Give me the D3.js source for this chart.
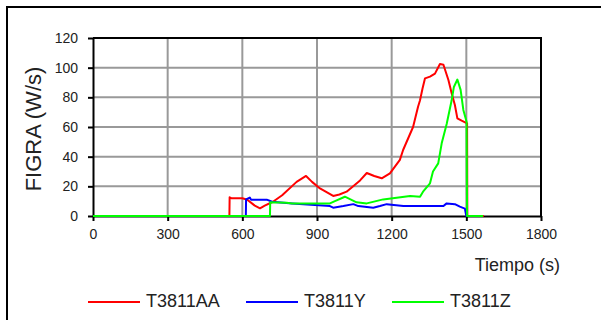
<!DOCTYPE html>
<html>
<head>
<meta charset="utf-8">
<script src="https://cdn.jsdelivr.net/npm/d3@7"></script>
<style>
	body { margin: 0; background: #fff; }
	text { font-family: "Liberation Sans", Arial, sans-serif; fill: #222; }
</style>
</head>
<body>
<svg id="chart" width="601" height="320"></svg>
<script>
// tiempos (s) y valores FIGRA (W/s)
var series = ["T3811AA", "T3811Y", "T3811Z"];
var colors = ["#ff0000", "#0000ff", "#00ff00"];

var t_AA = [0,548,549,555,600,620,650,671,690,723,760,818,856,880,912,965,990,1019,1073,1100,1130,1160,1193,1233,1246,1286,1306,1314,1324,1334,1354,1374,1394,1408,1428,1441,1454,1464,1481,1503,1504,1570];
var v_AA = [0,0,12.6,12,12,11,7,5.2,7,9.6,14,23,27,23,18.6,13.5,14.5,16.4,24,29,27,25.4,28.8,37.8,44.5,60,73.7,78,86,92.8,94,96,102.5,102,91.7,82.7,74.8,65.8,64.3,62.5,0,0];

var t_Y = [0,614,615,630,635,698,720,800,952,965,1006,1046,1066,1126,1153,1180,1247,1408,1421,1454,1474,1494,1500,1567];
var v_Y = [0,0,11.2,12.4,11,11,9.6,8.5,6.7,5.6,6.7,8,6.7,5.6,6.7,8,6.7,6.7,8.5,8,6.3,5,0,0];

var t_Z = [0,711,712,778,800,952,972,1012,1059,1100,1166,1274,1314,1326,1354,1366,1387,1401,1421,1441,1450,1464,1477,1488,1501,1503,1567];
var v_Z = [0,0,9.2,9,8.5,8.5,10,13,9.2,8.5,11.2,13.5,13,16.4,22,30,35.5,49,62,78,87,92,85,71.5,63.6,0,0];

var xTicks = [0, 300, 600, 900, 1200, 1500, 1800];
var yTicks = [0, 20, 40, 60, 80, 100, 120];

var data = [
	d3.zip(t_AA, v_AA),
	d3.zip(t_Y, v_Y),
	d3.zip(t_Z, v_Z)
];

var svg = d3.select("#chart");

// marco exterior
svg.append("rect")
	.attr("x", 7).attr("y", 7)
	.attr("width", 700).attr("height", 400)
	.attr("fill", "none")
	.attr("stroke", "#000")
	.attr("stroke-width", 2);

var pLeft = 93, pTop = 38, pRight = 541, pBottom = 216;

var X = d3.scaleLinear().domain([0, 1800]).range([pLeft, pRight]);
var Y = d3.scaleLinear().domain([0, 120]).range([pBottom, pTop]);

// rejilla
svg.append("g")
	.selectAll("line")
	.data(xTicks.slice(1, -1))
	.enter().append("line")
	.attr("x1", function(d) { return X(d); })
	.attr("x2", function(d) { return X(d); })
	.attr("y1", pTop).attr("y2", pBottom)
	.attr("stroke", "#999").attr("stroke-width", 2);

svg.append("g")
	.selectAll("line")
	.data(yTicks.slice(1, -1))
	.enter().append("line")
	.attr("y1", function(d) { return Y(d); })
	.attr("y2", function(d) { return Y(d); })
	.attr("x1", pLeft).attr("x2", pRight)
	.attr("stroke", "#999").attr("stroke-width", 2);

// ejes
svg.append("g")
	.attr("transform", "translate(0," + pBottom + ")")
	.call(d3.axisBottom(X).tickValues(xTicks).tickFormat(d3.format("d"))
		.tickSize(5).tickSizeOuter(0).tickPadding(8));
svg.append("g")
	.attr("transform", "translate(" + pLeft + ",0)")
	.call(d3.axisLeft(Y).tickValues(yTicks).tickFormat(d3.format("d"))
		.tickSize(5).tickSizeOuter(0).tickPadding(10));

svg.selectAll(".domain").attr("stroke", "#000").attr("stroke-width", 2);
svg.selectAll(".tick line").attr("stroke", "#000").attr("stroke-width", 2);
svg.selectAll(".tick text")
	.style("font-family", "'Liberation Sans', Arial, sans-serif")
	.style("font-size", "14px")
	.attr("fill", "#222");

// borde superior y derecho del area
svg.append("path")
	.attr("d", "M" + pLeft + "," + pTop + "H" + pRight + "V" + pBottom)
	.attr("fill", "none")
	.attr("stroke", "#000")
	.attr("stroke-width", 2);

// series
var line = d3.line()
	.x(function(d) { return X(d[0]); })
	.y(function(d) { return Y(d[1]); });

svg.append("g")
	.selectAll("path")
	.data(data)
	.enter().append("path")
	.attr("d", line)
	.attr("fill", "none")
	.attr("stroke", function(d, i) { return colors[i]; })
	.attr("stroke-width", 2)
	.attr("stroke-linejoin", "round");

// titulos
svg.append("text")
	.attr("transform", "translate(41,129) rotate(-90)")
	.attr("text-anchor", "middle")
	.style("font-size", "22px")
	.text("FIGRA (W/s)");

svg.append("text")
	.attr("x", 560).attr("y", 271)
	.attr("text-anchor", "end")
	.style("font-size", "18px")
	.text("Tiempo (s)");

// leyenda
var legX = [88, 246, 392];
var leg = svg.append("g")
	.selectAll("g")
	.data(series)
	.enter().append("g")
	.attr("transform", function(d, i) { return "translate(" + legX[i] + ",302)"; });

leg.append("line")
	.attr("x1", 0).attr("x2", 52)
	.attr("stroke", function(d, i) { return colors[i]; })
	.attr("stroke-width", 2);

leg.append("text")
	.attr("x", 58).attr("y", 5)
	.style("font-size", "18px")
	.text(function(d) { return d; });
</script>
</body>
</html>
